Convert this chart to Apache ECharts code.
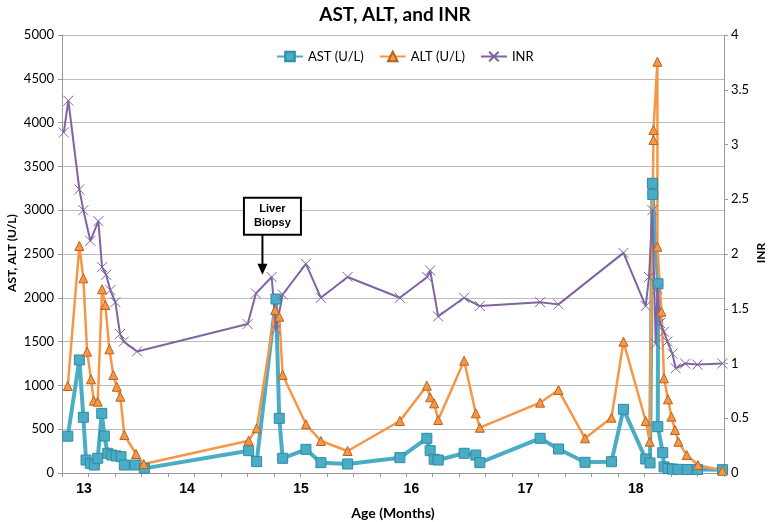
<!DOCTYPE html>
<html><head><meta charset="utf-8">
<script src="https://cdn.jsdelivr.net/npm/echarts@6/dist/echarts.min.js"></script>
<style>html,body{margin:0;padding:0;background:#fff}#c{width:768px;height:522px}</style>
</head><body><div id="c"></div>
<script>
// x values: age in days, measured from the start of month 13
const monthLabels = ['13','14','15','16','17','18'];
const monthDays = [0,28,59,89,120,150];

const astDays = [-4.43,-1.28,-0.19,0.54,1.71,2.80,3.72,4.81,5.52,6.44,7.53,8.7,10.05,10.95,13.86,16.39,44.75,46.93,52.17,53.07,54.0,60.33,64.40,71.66,85.87,93.2,94.1,95.2,96.28,103.34,106.52,107.61,124.0,129.0,136.22,143.4,146.66,152.72,153.89,154.54,154.62,156.06,156.0,157.34,157.7,158.8,160.0,161.5,164.0,166.8,173.6];
const astVals = [420,1290,636,148,110,91,168,681,422,225,205,195,186,91,91,53,255,130,1986,624,168,270,118,103,175,396,255,156,148,225,205,118,396,274,122,129,727,160,115,3307,3180,2160,529,232,70,50,45,42,40,40,38];

const altDays = [-4.43,-1.28,-0.19,0.82,1.90,2.64,3.72,4.89,5.79,6.88,7.96,8.89,9.86,10.95,14.13,16.22,44.75,46.93,51.98,53.07,54.0,60.33,64.40,71.66,85.87,93.2,94.1,95.2,96.28,103.34,106.52,107.61,124.0,129.0,136.22,143.4,146.66,152.72,153.8,154.81,154.81,155.9,155.9,157.0,157.69,158.78,159.7,160.68,161.6,163.86,166.93,173.56];
const altVals = [993,2591,2222,1385,1070,825,814,2097,1918,1412,1119,985,871,434,217,103,369,510,1861,1784,1119,556,365,251,594,997,864,795,605,1282,681,517,803,947,396,631,1499,594,357,3801,3915,4695,2583,1842,1081,841,643,491,357,205,91,26];

const inrDays = [-5.52,-4.27,-1.28,-0.19,1.71,3.89,4.89,5.98,7.15,8.51,9.78,10.79,14.40,44.48,46.74,51.01,52.17,54.0,60.33,64.40,71.66,85.87,93.3,94.1,96.28,103.34,107.61,124.0,129.0,146.66,152.72,153.61,154.54,155.43,155.9,156.6,157.69,158.61,159.97,160.87,163.45,166.77,173.56];
const inrVals = [3.11,3.40,2.59,2.40,2.12,2.30,1.88,1.81,1.67,1.56,1.27,1.20,1.11,1.36,1.64,1.79,1.31,1.63,1.91,1.60,1.79,1.60,1.79,1.85,1.43,1.60,1.525,1.56,1.54,2.01,1.525,1.79,2.40,1.18,1.68,1.37,1.29,1.20,1.09,0.956,1.0,0.99,1.0];

const biopsyDay = 48.5;
const biopsyInr = 1.81;

const xMin = -6, xMax = 174, tickCount = 25;
const tickDays = [];
for (let i = 0; i <= tickCount; i++) tickDays.push(+(xMin + (xMax - xMin) * i / tickCount).toFixed(3));

const zip = (a, b) => a.map((v, i) => [v, b[i]]);
const axisColor = '#9a9a9a';
const crossPath = 'path://M0,0L10,10M10,0L0,10';
const nameFont = {fontFamily: 'Lato', fontWeight: 'bold', fontSize: 12, fill: '#000', align: 'center', verticalAlign: 'middle'};

const chart = echarts.init(document.getElementById('c'), null, {renderer: 'canvas'});
chart.setOption({
  animation: false,
  backgroundColor: '#fff',
  title: {
    text: 'AST, ALT, and INR', left: 390, textAlign: 'center', top: 0,
    textStyle: {fontFamily: 'Lato', fontWeight: 'bold', fontSize: 19, color: '#000'}
  },
  legend: {
    left: 271, top: 45, itemWidth: 26, itemHeight: 12, itemGap: 15,
    textStyle: {fontFamily: 'Lato', fontSize: 13, color: '#000'},
    data: ['AST (U/L)', 'ALT (U/L)', 'INR']
  },
  grid: {left: 62, right: 44, top: 35, bottom: 49, outerBoundsMode: 'none', containLabel: false},
  xAxis: {
    type: 'value', min: xMin, max: xMax,
    axisLine: {show: true, onZero: false, lineStyle: {color: axisColor, width: 1}},
    axisTick: {show: true, customValues: tickDays, length: 4, lineStyle: {color: axisColor}},
    axisLabel: {
      customValues: monthDays,
      formatter: v => { const i = monthDays.indexOf(v); return i >= 0 ? monthLabels[i] : ''; },
      fontFamily: 'Liberation Sans', fontWeight: 'bold', fontSize: 14, color: '#000', margin: 9
    },
    splitLine: {show: false},
    name: 'Age (Months)', nameLocation: 'middle', nameGap: 33,
    nameTextStyle: {fontFamily: 'Lato', fontWeight: 'bold', fontSize: 14, color: '#000'}
  },
  yAxis: [{
    type: 'value', min: 0, max: 5000, interval: 500, position: 'left',
    axisLine: {show: true, onZero: false, lineStyle: {color: axisColor}},
    axisTick: {show: true, length: 4, lineStyle: {color: axisColor}},
    axisLabel: {fontFamily: 'Lato', fontSize: 13, color: '#000', margin: 8, formatter: v => String(v)},
    splitLine: {show: true, lineStyle: {color: '#bcbcbc', width: 1}}
  }, {
    type: 'value', min: 0, max: 4, interval: 0.5, position: 'right',
    axisLine: {show: true, onZero: false, lineStyle: {color: axisColor}},
    axisTick: {show: true, length: 4, lineStyle: {color: axisColor}},
    axisLabel: {fontFamily: 'Lato', fontSize: 13, color: '#000', margin: 7, formatter: v => String(v)},
    splitLine: {show: false}
  }],
  series: [{
    name: 'AST (U/L)', type: 'line', data: zip(astDays, astVals),
    symbol: 'rect', symbolSize: 10, showAllSymbol: true,
    lineStyle: {width: 4, color: '#4bacc6'},
    itemStyle: {color: '#4bacc6', borderColor: '#2e8ba5', borderWidth: 1}
  }, {
    name: 'ALT (U/L)', type: 'line', data: zip(altDays, altVals),
    symbol: 'triangle', symbolSize: 9, showAllSymbol: true,
    lineStyle: {width: 2.5, color: '#f79646'},
    itemStyle: {color: '#f79646', borderColor: '#b8641e', borderWidth: 1}
  }, {
    name: 'INR', type: 'line', yAxisIndex: 1, data: zip(inrDays, inrVals),
    symbol: crossPath, symbolSize: 10, showAllSymbol: true,
    lineStyle: {width: 2, color: '#8064a2'},
    itemStyle: {color: '#8064a2', borderColor: '#8064a2', borderWidth: 1}
  }]
});

const p = chart.convertToPixel({xAxisIndex: 0, yAxisIndex: 1}, [biopsyDay, biopsyInr]);
chart.setOption({
  graphic: [
    {type: 'text', x: 12, y: 253, rotation: Math.PI / 2, style: Object.assign({text: 'AST, ALT (U/L)'}, nameFont)},
    {type: 'text', x: 761, y: 253, rotation: Math.PI / 2, style: Object.assign({text: 'INR'}, nameFont)},
    {type: 'rect', shape: {x: p[0] - 18.5, y: p[1] - 77, width: 57, height: 37},
     style: {fill: '#fff', stroke: '#000', lineWidth: 2}, z: 100},
    {type: 'text', x: p[0] + 10, y: p[1] - 58.5, z: 101,
     style: {text: 'Liver\nBiopsy', fill: '#000', align: 'center', verticalAlign: 'middle',
             fontFamily: 'Liberation Sans', fontWeight: 'bold', fontSize: 11, lineHeight: 14}},
    {type: 'line', shape: {x1: p[0], y1: p[1] - 40, x2: p[0], y2: p[1] - 9},
     style: {stroke: '#000', lineWidth: 2}, z: 100},
    {type: 'polygon', shape: {points: [[p[0] - 5, p[1] - 11], [p[0] + 5, p[1] - 11], [p[0], p[1]]]},
     style: {fill: '#000'}, z: 100}
  ]
});
</script></body></html>
